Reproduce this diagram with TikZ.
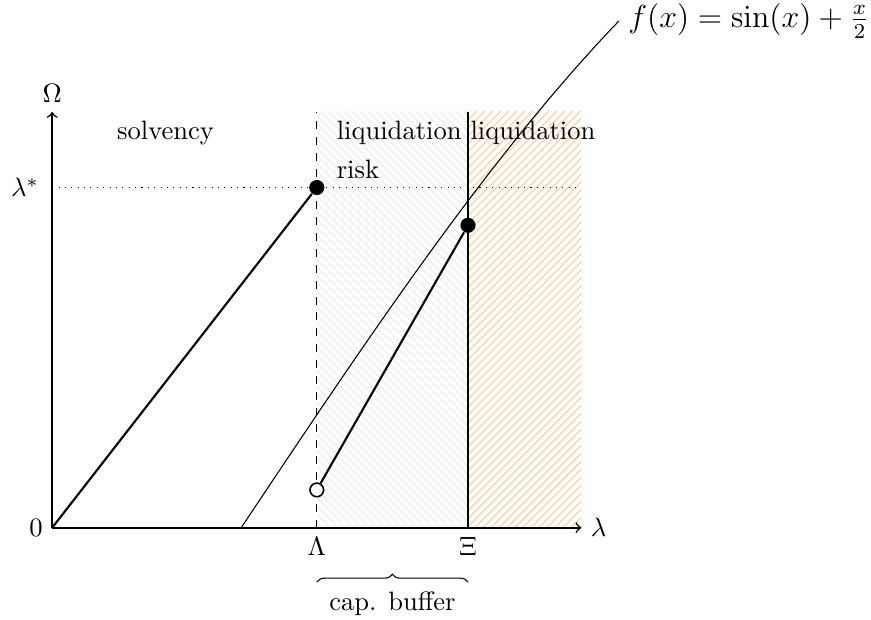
\documentclass[tikz,border=0pt]{standalone}
\usetikzlibrary{patterns,decorations.pathreplacing,positioning}

\begin{document}
\begin{tikzpicture}[dot/.style={circle, fill, inner sep=0pt, minimum size=2mm}, hole/.style={circle, draw, semithick, fill=white, inner sep=0pt, minimum size=1.8mm}]
		\useasboundingbox (-0.69,-1.22) rectangle (10.83,6.98);
		
		% regions
		\fill[pattern=north west lines, pattern color=gray!15] (3.5,0) rectangle (5.5,5.5);
		\fill[pattern=north east lines, pattern color=orange!40] (5.5,0) rectangle (7,5.5);
		
		\coordinate (O) at (0,0);
		\coordinate (xend) at (7,0);
		\coordinate (yend) at (0,5.5);
		\coordinate (lstar) at (0,4.5);
		\coordinate (lstarend) at (7,4.5);
		\coordinate (Lam) at (3.5,0);
		\coordinate (Lamtop) at (3.5,5.5);
		\coordinate (Xi) at (5.5,0);
		\coordinate (Xitop) at (5.5,5.5);
		
		\draw[dotted] (lstar) -- (lstarend);
		\draw[dashed] (Lam) -- (Lamtop);
		\draw[thick] (Xi) -- (Xitop);
		\draw[->, semithick] (O) -- (xend);
		\draw[->, semithick] (O) -- (yend);
		
		\node[left] (zero) at (O) {$0$};
		\node[right] (lam) at (xend) {$\lambda$};
		\node[above] (om) at (yend) {$\Omega$};
		\node[left=1.5pt] (ls) at (lstar) {$\lambda^*$};
		\node[below] (Llab) at (Lam) {$\Lambda$};
		\node[below] (Xlab) at (Xi) {$\Xi$};
		
		\node[anchor=north] (solv) at (1.5,5.5) {solvency};
		\node[anchor=north west, align=left] (risk) at (3.64,5.5) {liquidation\\[2.5pt]risk};
		\node[anchor=north west] (liq) at (5.41,5.5) {liquidation};
		
		% curve
		\draw[domain=0:1, samples=60] plot ({2.5+5*\x}, {5*(sin(\x r)+\x/2)}) node[right, font=\large] (f) {$f(x)=\sin(x)+\frac{x}{2}$};
		
		\node[dot] (A) at (3.5,4.5) {};
		\node[hole] (B) at (3.5,0.5) {};
		\node[dot] (C) at (5.5,4) {};
		\draw[thick] (O) -- (A);
		\draw[thick] (B) -- (C);
		
		\draw[decorate, decoration={brace, amplitude=3pt}] (3.5,-0.72) -- (5.5,-0.72);
		\node[below] (buf) at (4.5,-0.72) {cap. buffer};
	\end{tikzpicture}
\end{document}
